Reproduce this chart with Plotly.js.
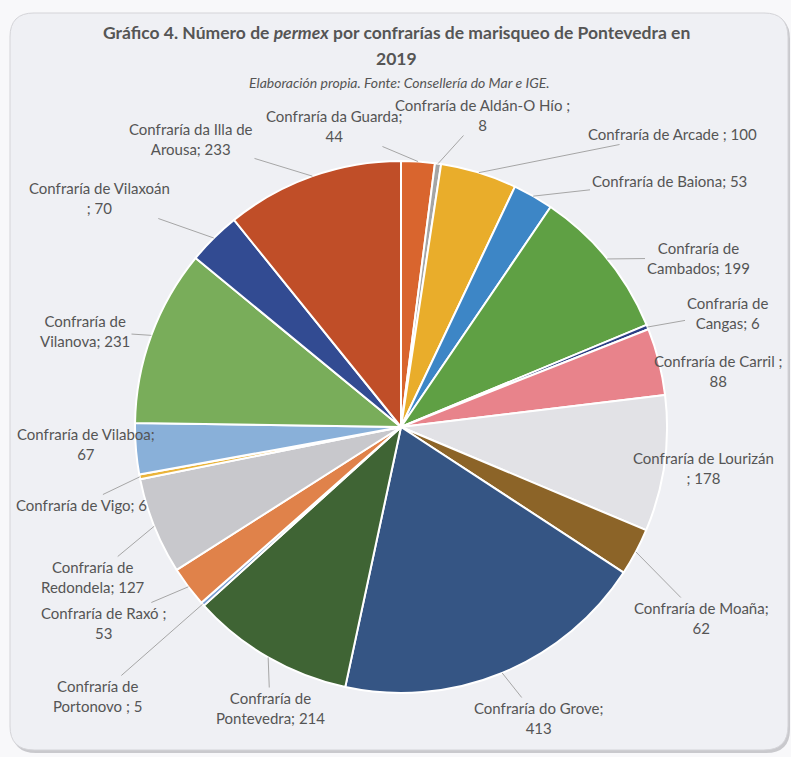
<!DOCTYPE html>
<html>
<head>
<meta charset="utf-8">
<script src="https://cdn.plot.ly/plotly-3.0.1.min.js"></script>
<style>html,body{margin:0;padding:0;background:#f8f8fa;}#chart{width:791px;height:757px;}</style>
</head>
<body>
<div id="chart"></div>
<script>
// ---- data ----
var names = [
  "Confraría da Guarda", "Confraría de Aldán-O Hío", "Confraría de Arcade", "Confraría de Baiona",
  "Confraría de Cambados", "Confraría de Cangas", "Confraría de Carril", "Confraría de Lourizán",
  "Confraría de Moaña", "Confraría do Grove", "Confraría de Pontevedra", "Confraría de Portonovo",
  "Confraría de Raxó", "Confraría de Redondela", "Confraría de Vigo", "Confraría de Vilaboa",
  "Confraría de Vilanova", "Confraría de Vilaxoán", "Confraría da Illa de Arousa"
];
var values = [44, 8, 100, 53, 199, 6, 88, 178, 62, 413, 214, 5, 53, 127, 6, 67, 231, 70, 233];
var separators = [";", " ;", " ;", ";", ";", ";", " ;", " ;", ";", ";", ";", " ;", " ;", ";", ";", ";", ";", " ;", ";"];

// ---- styles / layout ----
var colors = ["#d9652e", "#a5a5a5", "#e9ad2b", "#3d86c6", "#5fa044", "#2c3e84", "#e8838b", "#e2e2e6",
  "#8c6428", "#355584", "#3f6434", "#7a9fd4", "#e0824a", "#c8c8cc", "#eab43a", "#89b0d9",
  "#79ad5a", "#324b92", "#c04e28"];
var W = 791, H = 757;
var cx = 401, cy = 427, R = 266;
// words on first line of each label (0 = single line)
var breakAt = [3, 5, 0, 0, 2, 2, 4, 3, 3, 3, 2, 2, 4, 2, 0, 3, 2, 3, 4];
// label centres in pixels
var labelPos = [
  [334, 126], [482, 115], [672, 134], [669, 181], [698, 258], [727, 313], [718, 371], [703, 468],
  [701, 618], [538, 718], [270, 708], [98, 696], [103, 623], [93, 577], [81, 505], [86, 444],
  [85, 331], [100, 198], [191, 139]
];
var showLeader = [true, true, true, true, true, true, false, false, true, true, true, true, true, true, true, false, true, true, true];

var total = values.reduce(function (a, b) { return a + b; }, 0);

function labelText(i) {
  var toks = (names[i] + separators[i] + " " + values[i]).split(" ");
  var k = breakAt[i];
  if (!k) return toks.join(" ");
  return toks.slice(0, k).join(" ") + "<br>" + toks.slice(k).join(" ");
}

var FONT = "Lato, 'Open Sans', sans-serif";
var labelFont = {family: FONT, size: 15, color: "#555555"};
var annotations = [];
var cum = 0;
for (var i = 0; i < values.length; i++) {
  var mid = (cum + values[i] / 2) / total * 2 * Math.PI;
  cum += values[i];
  var tx = cx + R * Math.sin(mid), ty = cy - R * Math.cos(mid);
  var lx = labelPos[i][0], ly = labelPos[i][1];
  if (showLeader[i]) {
    annotations.push({
      xref: "paper", yref: "paper", x: tx / W, y: 1 - ty / H,
      ax: lx - tx, ay: ly - ty, showarrow: true, arrowhead: 0, arrowwidth: 1,
      arrowcolor: "#a6a6a6", standoff: 0, startstandoff: 0,
      text: labelText(i), font: labelFont, align: "center"
    });
  } else {
    annotations.push({
      xref: "paper", yref: "paper", x: lx / W, y: 1 - ly / H, xanchor: "center", yanchor: "middle",
      showarrow: false, text: labelText(i), font: labelFont, align: "center"
    });
  }
}

// titles
annotations.push({xref: "paper", yref: "paper", x: 396 / W, y: 1 - 33 / H, xanchor: "center", yanchor: "middle", showarrow: false,
  text: "<b>Gráfico 4. Número de <i>permex</i> por confrarías de marisqueo de Pontevedra en</b>",
  font: {family: FONT, size: 17.5, color: "#555555"}});
annotations.push({xref: "paper", yref: "paper", x: 396 / W, y: 1 - 58 / H, xanchor: "center", yanchor: "middle", showarrow: false,
  text: "<b>2019</b>", font: {family: FONT, size: 17.5, color: "#555555"}});
annotations.push({xref: "paper", yref: "paper", x: 399 / W, y: 1 - 82 / H, xanchor: "center", yanchor: "middle", showarrow: false,
  text: "<i>Elaboración propia. Fonte: Consellería do Mar e IGE.</i>", font: {family: FONT, size: 14, color: "#555555"}});

function px(x) { return (x / W).toFixed(5); }
function py(y) { return (1 - y / H).toFixed(5); }
function roundRect(x0, y0, x1, y1, rr) {
  return "M" + px(x0 + rr) + "," + py(y0) + " L" + px(x1 - rr) + "," + py(y0) +
    " Q" + px(x1) + "," + py(y0) + " " + px(x1) + "," + py(y0 + rr) +
    " L" + px(x1) + "," + py(y1 - rr) +
    " Q" + px(x1) + "," + py(y1) + " " + px(x1 - rr) + "," + py(y1) +
    " L" + px(x0 + rr) + "," + py(y1) +
    " Q" + px(x0) + "," + py(y1) + " " + px(x0) + "," + py(y1 - rr) +
    " L" + px(x0) + "," + py(y0 + rr) +
    " Q" + px(x0) + "," + py(y0) + " " + px(x0 + rr) + "," + py(y0) + " Z";
}

var shapes = [
  {type: "path", xref: "paper", yref: "paper", path: roundRect(12, 15, 790, 753, 24), fillcolor: "#c9c9cd", line: {width: 0}, layer: "below"},
  {type: "path", xref: "paper", yref: "paper", path: roundRect(10, 13, 788, 750, 24), fillcolor: "#eff0f4", line: {color: "#d4d4d8", width: 1}, layer: "below"}
];

var trace = {
  type: "pie",
  labels: names,
  values: values,
  sort: false,
  direction: "clockwise",
  rotation: 0,
  textinfo: "none",
  hoverinfo: "label+value",
  marker: {colors: colors, line: {color: "#ffffff", width: 2}},
  domain: {x: [(cx - R) / W, (cx + R) / W], y: [1 - (cy + R) / H, 1 - (cy - R) / H]},
  showlegend: false
};

var layout = {
  width: W, height: H,
  margin: {l: 0, r: 0, t: 0, b: 0},
  paper_bgcolor: "#f8f8fa",
  showlegend: false,
  annotations: annotations,
  shapes: shapes
};

Plotly.newPlot("chart", [trace], layout, {displayModeBar: false, staticPlot: true});
</script>
</body>
</html>
